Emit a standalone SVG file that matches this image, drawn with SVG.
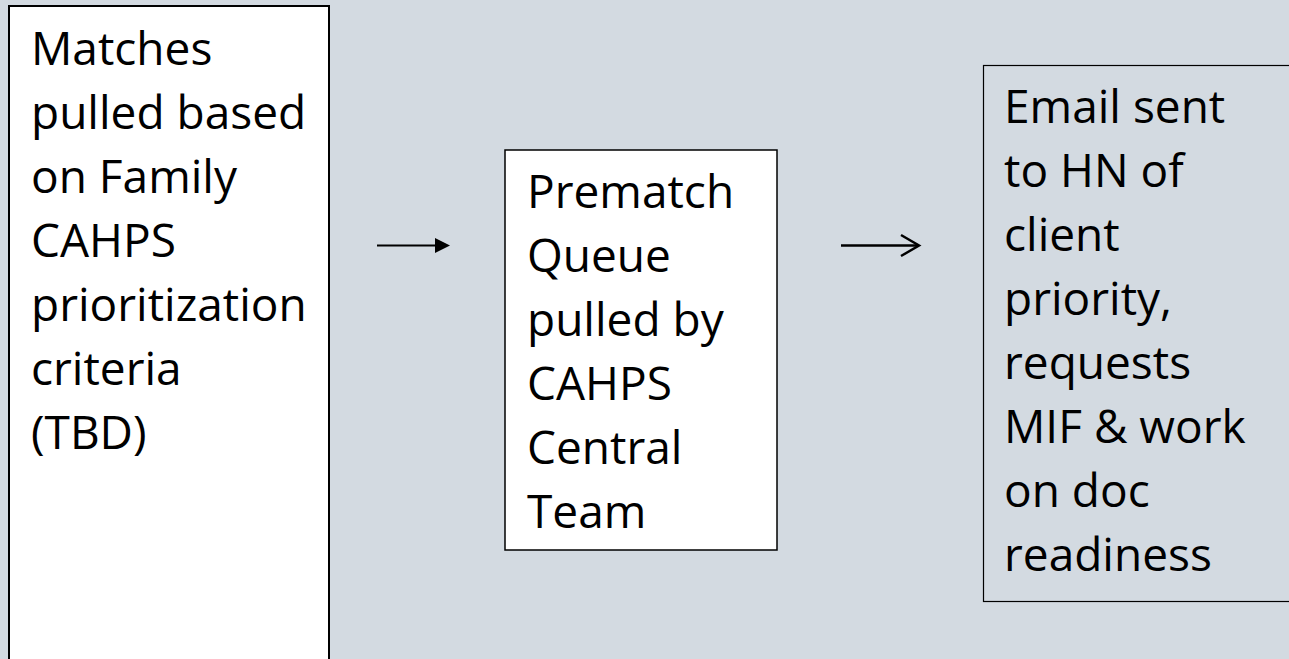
<svg xmlns="http://www.w3.org/2000/svg" width="1289" height="659" viewBox="0 0 1289 659">
<style>
.t{font-family:"Open Sans","Liberation Sans",sans-serif;font-size:46px;fill:#000}
.box{stroke:#000}
</style>
<rect x="0" y="0" width="1289" height="659" fill="#D3DAE1"/>
<g id="node1">
<rect class="box" x="9" y="6" width="320" height="670" fill="#fff" stroke-width="2"/>
<text class="t" x="31" y="65">Matches</text>
<text class="t" x="31" y="129">pulled based</text>
<text class="t" x="31" y="193">on Family</text>
<text class="t" x="31" y="257">CAHPS</text>
<text class="t" x="31" y="321">prioritization</text>
<text class="t" x="31" y="385">criteria</text>
<text class="t" x="31" y="449">(TBD)</text>
</g>
<g id="node2">
<rect class="box" x="505" y="150" width="272" height="400" fill="#fff" stroke-width="1.5"/>
<text class="t" x="527" y="208">Prematch</text>
<text class="t" x="527" y="272">Queue</text>
<text class="t" x="527" y="336">pulled by</text>
<text class="t" x="527" y="400">CAHPS</text>
<text class="t" x="527" y="464">Central</text>
<text class="t" x="527" y="528">Team</text>
</g>
<g id="node3">
<rect class="box" x="983.5" y="65.5" width="320" height="536" fill="none" stroke-width="1.2"/>
<text class="t" x="1004" y="123">Email sent</text>
<text class="t" x="1004" y="187">to HN of</text>
<text class="t" x="1004" y="251">client</text>
<text class="t" x="1004" y="315">priority,</text>
<text class="t" x="1004" y="379">requests</text>
<text class="t" x="1004" y="443">MIF &amp; work</text>
<text class="t" x="1004" y="507">on doc</text>
<text class="t" x="1004" y="571">readiness</text>
</g>
<g id="connectors" stroke="#000" fill="none">
<line x1="377" y1="245.5" x2="437" y2="245.5" stroke-width="2"/>
<polygon points="435,238 450,245.5 435,253" fill="#000" stroke="none"/>
<line x1="841" y1="245.5" x2="918" y2="245.5" stroke-width="2.5"/>
<polyline points="901,235 919,245.5 901,256" stroke-width="2.5"/>
</g>
</svg>
